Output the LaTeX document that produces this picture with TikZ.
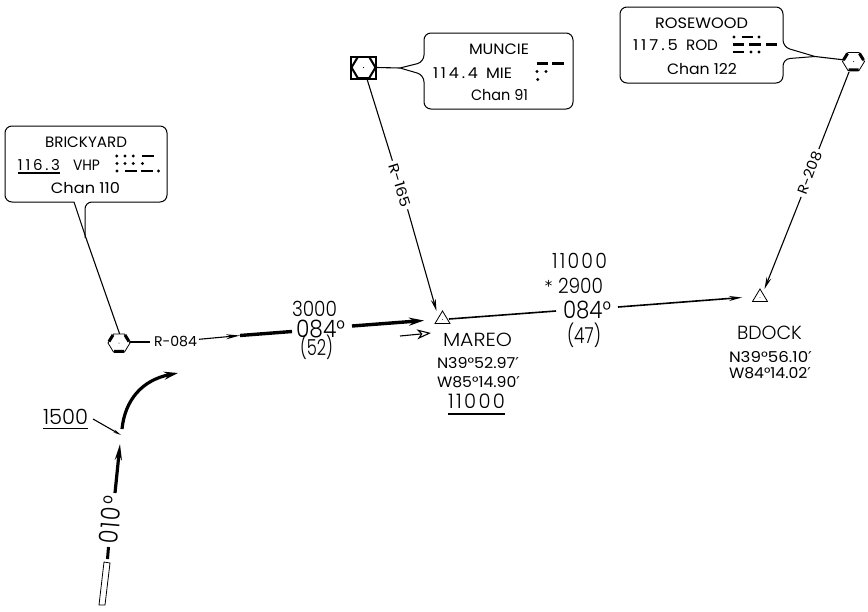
\documentclass[tikz,border=0pt]{standalone}
\usepackage{graphicx}
\usepackage{fontspec}
\setmainfont{Poppins}[UprightFont=* Light]
\newfontfamily\regf{Poppins}
\newfontfamily\primef{DejaVu Sans}
\usetikzlibrary{arrows.meta}
\newcommand\fs[1]{\fontsize{#1}{#1}\selectfont\ifdim #1pt<17pt\regf\fi}
\newcommand\ls[2]{{\addfontfeature{LetterSpace=#1}#2}}
\newcommand\hexfig[1]{%
  \begin{scope}[shift={(#1)}]
    \fill[white] (-11,0)--(-5.5,-9)--(5.5,-9)--(11,0)--(5.5,9)--(-5.5,9)--cycle;
    \draw[line width=.8pt] (-11,0)--(-5.5,-9)--(5.5,-9)--(11,0)--(5.5,9)--(-5.5,9)--cycle;
    \draw[line width=3pt] (-10,-1.5)--(-6,-8) (6,-8)--(10,-1.5) (-5,8.3)--(5,8.3);
    \fill (0,0) circle (.5);
  \end{scope}}
\newcommand\tri[1]{%
  \begin{scope}[shift={(#1)}]
    \draw[line width=.8pt,fill=white] (-7.5,5.5)--(0,-7)--(7.5,5.5)--cycle;
    \fill (0,1.5) circle (.4);
  \end{scope}}
\tikzset{x=1pt,y=-1pt,
  tx/.style={inner sep=0pt,anchor=base,text=black},
  ln/.style={line width=1.1pt},
  med/.style={line width=1.6pt},
  hvy/.style={line width=3.4pt},
  box/.style={line width=1pt,rounded corners=7pt},
  arr/.style={-{Stealth[length=12pt,width=5pt]}},
  bigarr/.style={-{Stealth[length=15pt,width=8pt]}},
  dsh/.style={line width=2.8pt},
}
\newcommand\mdots[2]{\foreach \q in {#2} {\fill (\q,#1) circle (1.6);}}
\newcommand\mdashes[2]{\foreach \a/\b in {#2} {\draw[dsh] (\a,#1)--(\b,#1);}}
% name, left, right, baseline, size, text
\newcommand\T[6]{\pgfmathsetmacro\twd{#3-#2}%
  \node[tx] (#1) at ({(#2+#3)/2},#4) {\resizebox{\twd pt}{\height}{\fs{#5}#6}};}
\newcommand\pr{{\primef ′}}
\begin{document}
\begin{tikzpicture}
\useasboundingbox (0,0) rectangle (868,611);
% named anchors
\coordinate (hexB) at (119,343);
\coordinate (hexM) at (363.5,67.5);
\coordinate (hexR) at (853.5,61.5);
\coordinate (triM) at (442.5,318);
\coordinate (triB) at (760,296);
% callout BRICKYARD
\coordinate (ptB) at (74,202);
\coordinate (ptBend) at (86,238);
\draw[box,fill=white] (ptB) -- (5,202) -- (5,126) -- (167,126) -- (167,202) -- (85,202) -- (85,238);
\draw[ln] (ptB) -- (ptBend) -- (120,335);
% callout MUNCIE
\coordinate (tipM) at (400,68);
\draw[box,fill=white] (tipM) -- (424,62) -- (424,33) -- (573,33) -- (573,109) -- (424,109) -- (424,75) -- (tipM);
\draw[ln] (tipM) -- (377,67.5);
% callout ROSEWOOD
\coordinate (tipR) at (815,56.5);
\draw[box,fill=white] (tipR) -- (783,47) -- (783,7) -- (620,7) -- (620,83) -- (783,83) -- (783,59) -- (tipR);
\draw[ln] (tipR) -- (845,60);
% radials
\coordinate (mStart) at (367,79);
\coordinate (rStart) at (849,72);
\node[tx,rotate=-72.7,anchor=center,outer sep=3pt] (r165) at (400,185) {\resizebox{45pt}{\height}{\fs{14}R-165}};
\node[tx,rotate=69.7,anchor=center,outer sep=3pt] (r208) at (810,173) {\resizebox{45pt}{\height}{\fs{14}R-208}};
\draw[ln] (mStart) -- (r165.west);
\draw[ln,arr] (r165.east) -- (436.5,311);
\draw[ln] (rStart) -- (r208.east);
\draw[ln,arr] (r208.west) -- (764.5,289);
% route legs
\T{r084}{154}{197}{346}{14}{R-084}
\coordinate (hbR) at (130,342);
\coordinate (r084w) at (150,342);
\draw[ln] (hbR) -- (r084w);
\coordinate (r084e) at (199,339.3);
\coordinate (thickS) at (240,335.5);
\draw[ln,-{Stealth[length=14pt,width=5pt]}] (r084e) -- (thickS);
\coordinate (thickE) at (292,331.5);
\draw[hvy] (thickS) -- (thickE);
\coordinate (thickS2) at (352,326);
\coordinate (thickT) at (424,320.5);
\draw[hvy,bigarr] (thickS2) -- (thickT);
\coordinate (openS) at (400,336);
\coordinate (openE) at (431,333);
\draw[ln,-{Stealth[open,length=14pt,width=10pt,inset=4pt]}] (openS) -- (openE);
\coordinate (legS) at (449,319);
\coordinate (legG) at (556,311);
\coordinate (legG2) at (618,307);
\coordinate (legE) at (742,297.5);
\draw[med] (legS) -- (legG);
\draw[med,-{Stealth[length=13pt,width=5pt]}] (legG2) -- (legE);
% turn
\coordinate (turnS) at (122,429);
\coordinate (turnE) at (178,373);
\draw[line width=3.2pt,-{Stealth[length=14pt,width=8pt]}] (turnS) .. controls (125,400) and (142,380) .. (turnE);
\coordinate (fxT) at (120,444);
\coordinate (fxB) at (115,493);
\draw[line width=3.2pt,-{Stealth[length=16pt,width=7pt]}] (fxB) -- (fxT);
\node[tx,rotate=85,anchor=center] (crs) at (110.5,520) {\resizebox{48pt}{\height}{\fs{26}\ls{8}{010°}}};
\coordinate (stubA) at (108.5,547);
\coordinate (stubB) at (107.5,559);
\draw[line width=3pt] (stubA) -- (stubB);
\draw[line width=.8pt] (104,562) -- (110,563) -- (105,605) -- (99,605) -- cycle;
% 1500
\T{n1500}{43}{88}{424}{21}{1500}
\draw[ln] (43,428.5) -- (88,428.5);
\coordinate (ldA) at (93,419);
\coordinate (ldB) at (121,435);
\draw[ln,-{Stealth[length=8pt,width=3pt]}] (ldA) -- (ldB);
% symbols
\hexfig{hexB}
\fill[white] (350,56) rectangle (377,79);
\draw[line width=2pt] (351,57) rectangle (376,78.5);
\begin{scope}[shift={(hexM)}]
  \draw[line width=.7pt] (-12,0)--(-6,-10)--(6,-10)--(12,0)--(6,10)--(-6,10)--cycle;
  \draw[line width=2pt] (-12,0)--(-6,-10) (6,-10)--(12,0)--(6,10) (-6,10)--(-12,0);
  \fill (0,0) circle (.7);
\end{scope}
\hexfig{hexR}
\tri{triM}
\tri{triB}
% BRICKYARD text
\T{bk1}{45}{127}{147}{15}{BRICKYARD}
\T{bk2}{18}{60}{170}{15}{\ls{18}{116.3}}
\draw[ln] (18,173) -- (60,173);
\T{bk3}{73}{100}{170}{15}{VHP}
\T{bk4}{51}{120}{193}{15}{Chan 110}
\mdots{156}{116.7,125,133.3}
\mdashes{156}{141.7/153.5}
\mdots{163.5}{117,125,133.3,142.5}
\mdots{171}{117}
\mdashes{171}{125/136.7,140.7/152.7}
\mdots{171}{158.5}
% MUNCIE text
\T{mu1}{469}{529}{54}{15}{MUNCIE}
\T{mu2}{433}{478}{78}{15}{\ls{18}{114.4}}
\T{mu3}{486}{512}{78}{15}{MIE}
\T{mu4}{471}{528}{100}{15}{Chan 91}
\mdashes{63.5}{536.7/548.3,552.3/564}
\mdots{71.5}{537,546}
\mdots{79.5}{537.7}
% ROSEWOOD text
\T{ro1}{655}{748}{28}{15}{ROSEWOOD}
\T{ro2}{633}{678}{50}{15}{\ls{18}{117.5}}
\T{ro3}{686}{718}{50}{15}{ROD}
\T{ro4}{667}{737}{74}{15}{Chan 122}
\mdots{37}{734,759}
\mdashes{37}{741.7/753.3}
\mdashes{44.5}{732.7/744.3,749/760.7,766/776.7}
\mdashes{52}{732.7/744.3}
\mdots{52}{751,759}
% leg labels
\T{a1}{292}{337}{316}{21}{3000}
\T{a2}{296}{345}{337}{24}{084°}
\T{a3}{300}{333}{355}{22}{(52)}
\T{b1}{552}{607}{268}{21}{\ls{12}{11000}}
\T{b2}{558}{603}{293}{21}{2900}
\node[tx,anchor=center] (star) at (548.5,286) {\primef\fontsize{15}{15}\selectfont *};
\T{b3}{563}{611}{318}{24}{084°}
\T{b4}{567}{601}{343}{22}{(47)}
% fix labels
\T{m1}{443}{512}{346}{19}{MAREO}
\T{m2}{437}{519}{368}{15}{N39°52.97\pr}
\T{m3}{437}{520}{387}{15}{W85°14.90\pr}
\T{m4}{448}{505}{408}{20}{\ls{12}{11000}}
\draw[ln] (448,414) -- (505,414);
\T{d1}{737}{802}{339}{19}{BDOCK}
\T{d2}{729}{812}{362}{15}{N39°56.10\pr}
\T{d3}{729}{811}{378.5}{15}{W84°14.02\pr}
\end{tikzpicture}
\end{document}
